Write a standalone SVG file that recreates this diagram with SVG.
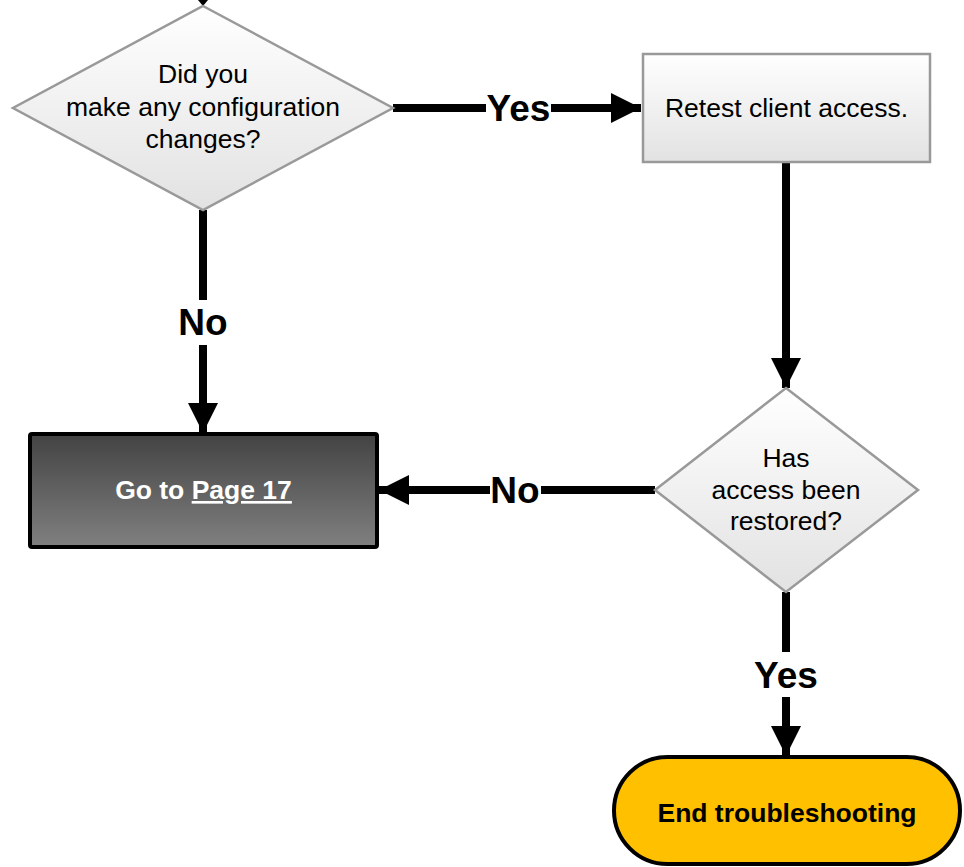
<svg xmlns="http://www.w3.org/2000/svg" width="964" height="867" viewBox="0 0 964 867">
<defs>
<linearGradient id="gLight" x1="0" y1="0" x2="0" y2="1"><stop offset="0" stop-color="#ffffff"/><stop offset="1" stop-color="#e2e2e2"/></linearGradient>
<linearGradient id="gDark" x1="0" y1="0" x2="0" y2="1"><stop offset="0" stop-color="#434343"/><stop offset="1" stop-color="#808080"/></linearGradient>
<marker id="arr" viewBox="0 0 10 10" refX="10" refY="5" markerUnits="userSpaceOnUse" markerWidth="30" markerHeight="30" orient="auto"><path d="M0,0 L10,5 L0,10 Z" fill="#000"/></marker>
</defs>
<style>
.shape{fill:url(#gLight);stroke:#999;stroke-width:2.5}
.txt{font-family:"Liberation Sans",Arial,sans-serif;font-size:26.5px;fill:#000;text-anchor:middle}
.bold{font-weight:bold}
.conn{stroke:#000;stroke-width:8;fill:none}
.lbl{font-family:"Liberation Sans",Arial,sans-serif;font-size:37px;font-weight:bold;fill:#000;text-anchor:middle;dominant-baseline:central}
</style>
<g id="connectors">
<polygon points="198,0 208,0 203,6" fill="#000"/>
<line class="conn" x1="393" y1="108" x2="641" y2="108" marker-end="url(#arr)"/>
<rect x="486" y="90" width="65" height="36" fill="#fff"/>
<text class="lbl" x="518.5" y="108">Yes</text>
<line class="conn" x1="203" y1="210" x2="203" y2="433" marker-end="url(#arr)"/>
<rect x="180" y="300" width="46" height="45" fill="#fff"/>
<text class="lbl" x="203" y="322">No</text>
<line class="conn" x1="786" y1="162" x2="786" y2="388" marker-end="url(#arr)"/>
<line class="conn" x1="655" y1="490" x2="379" y2="490" marker-end="url(#arr)"/>
<rect x="490" y="470" width="51" height="40" fill="#fff"/>
<text class="lbl" x="515" y="490">No</text>
<line class="conn" x1="786" y1="592" x2="786" y2="756" marker-end="url(#arr)"/>
<rect x="752" y="652" width="68" height="45" fill="#fff"/>
<text class="lbl" x="786" y="675">Yes</text>
</g>
<g id="q1">
<polygon class="shape" points="203,6 393,108 203,210 13,108"/>
<text class="txt" x="203" y="83">Did you</text>
<text class="txt" x="203" y="116">make any configuration</text>
<text class="txt" x="203" y="148">changes?</text>
</g>
<g id="retest">
<rect class="shape" x="643" y="54" width="287" height="108"/>
<text class="txt" x="786.5" y="117">Retest client access.</text>
</g>
<g id="q2">
<polygon class="shape" points="786,388 918,490 786,592 655,490"/>
<text class="txt" x="786" y="467">Has</text>
<text class="txt" x="786" y="499">access been</text>
<text class="txt" x="786" y="530">restored?</text>
</g>
<g id="goto">
<rect x="30" y="434" width="347" height="113" rx="2" fill="url(#gDark)" stroke="#000" stroke-width="4"/>
<text class="txt bold" x="203.5" y="499" style="fill:#fff">Go to <tspan text-decoration="underline">Page 17</tspan></text>
</g>
<g id="end">
<rect x="614" y="757" width="346" height="107" rx="53.5" fill="#FFC000" stroke="#000" stroke-width="4"/>
<text class="txt bold" x="787" y="822">End troubleshooting</text>
</g>
</svg>
